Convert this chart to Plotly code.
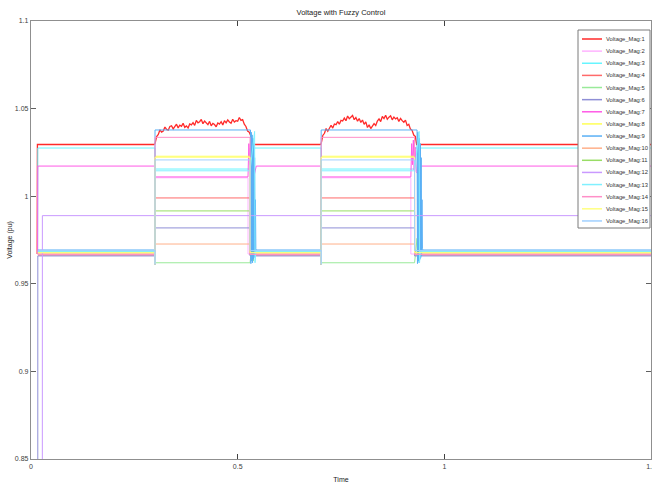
import plotly.graph_objects as go

# ---------------- data ----------------
SERIES_NAMES = ["Voltage_Mag:1", "Voltage_Mag:2", "Voltage_Mag:3", "Voltage_Mag:4",
                "Voltage_Mag:5", "Voltage_Mag:6", "Voltage_Mag:7", "Voltage_Mag:8",
                "Voltage_Mag:9", "Voltage_Mag:10", "Voltage_Mag:11", "Voltage_Mag:12",
                "Voltage_Mag:13", "Voltage_Mag:14", "Voltage_Mag:15", "Voltage_Mag:16"]

COLORS = ["#ff2a2a", "#ffb3ff", "#66f5ff", "#ff6a6a", "#99ea99", "#8f8fd6", "#ff5ae6", "#ffff55",
          "#5ab0f5", "#ffb08a", "#99dd66", "#c999ff", "#80f0ff", "#ff8fc8", "#ffff80", "#a0d0ff"]

# steady-state level of each bus before / between / after the disturbances
BASE_LEVEL = [1.0295, 0.9670, 1.0275, 0.9664, 0.9683, 0.9659, 1.0172, 0.9676,
              0.9693, 0.9670, 0.9680, 0.9889, 0.9685, 0.9668, 0.9678, 0.9690]
# level held during the two disturbance windows (None = no step)
EVENT_LEVEL = [None, 1.0105, 1.0155, 0.9990, 0.9620, 0.9819, 1.0110, 1.0228,
               1.0378, 0.9727, 0.9916, None, 1.0145, 1.0336, 1.0222, 1.0207]
SWITCH_ON_T = [0.015, 0.016, 0.016, 0.016, 0.016, 0.016, 0.016, 0.016,
               0.016, 0.016, 0.016, 0.027, 0.016, 0.016, 0.016, 0.016]
SWITCH_ON_FROM = [0.9670, None, 0.9670, None, None, 0.0, 0.9670, None,
                  None, None, None, 0.0, None, None, None, None]
DIP_V = 0.961
EVENT_START = [0.300, 0.702]
EVENT_END_1 = [0.532, 0.525, 0.530, 0.530, 0.530, 0.530, 0.525, 0.530,
               0.531, 0.530, 0.530, None, 0.530, 0.530, 0.530, 0.530]
EVENT_END_2 = [0.930, 0.919, 0.928, 0.928, 0.928, 0.928, 0.919, 0.928,
               0.934, 0.928, 0.928, None, 0.928, 0.928, 0.928, 0.928]
END_TIME = 1.5

# post-disturbance transients (time after the window end, value)
POST_DT = {
    5: [0.006, 0.008, 0.010, 0.012, 0.015],
    7: [0.002, 0.004, 0.006, 0.008, 0.010, 0.013, 0.016, 0.020],
    9: [0.001, 0.002, 0.003, 0.004, 0.005, 0.006, 0.007, 0.008, 0.009, 0.010, 0.011, 0.012, 0.013, 0.014],
    13: [0.011, 0.012, 0.014],
}
POST_V = {
    5: [0.9760, 0.9630, 0.9730, 0.9660, 0.9683],
    7: [1.0300, 1.0180, 1.0320, 1.0150, 1.0280, 1.0140, 1.0130, 1.0172],
    9: [0.9615, 1.0365, 0.9630, 1.0350, 0.9620, 1.0330, 0.9640, 1.0300, 0.9650, 1.0220, 0.9660, 0.9980, 0.9700, 0.9693],
    13: [1.0370, 0.9620, 0.9685],
}

# fuzzy-controlled bus 1 (noisy) during the two windows
RED_T1 = [0.300, 0.304, 0.308, 0.312, 0.316, 0.320, 0.324, 0.328, 0.332, 0.336, 0.340, 0.344,
          0.348, 0.352, 0.356, 0.360, 0.364, 0.368, 0.372, 0.376, 0.380, 0.384, 0.388, 0.392,
          0.396, 0.400, 0.404, 0.408, 0.412, 0.416, 0.420, 0.424, 0.428, 0.432, 0.436, 0.440,
          0.444, 0.448, 0.452, 0.456, 0.460, 0.464, 0.468, 0.472, 0.476, 0.480, 0.484, 0.488,
          0.492, 0.496, 0.500, 0.504, 0.508, 0.512, 0.516, 0.520, 0.524, 0.528, 0.532]
RED_V1 = [1.0300, 1.0341, 1.0352, 1.0379, 1.0366, 1.0372, 1.0395, 1.0381, 1.0377, 1.0398, 1.0402, 1.0384,
          1.0396, 1.0411, 1.0390, 1.0405, 1.0399, 1.0416, 1.0393, 1.0401, 1.0389, 1.0412, 1.0407, 1.0420,
          1.0404, 1.0433, 1.0419, 1.0425, 1.0438, 1.0414, 1.0429, 1.0421, 1.0408, 1.0427, 1.0402, 1.0415,
          1.0409, 1.0396, 1.0418, 1.0412, 1.0425, 1.0407, 1.0431, 1.0419, 1.0436, 1.0424, 1.0417, 1.0439,
          1.0423, 1.0431, 1.0428, 1.0449, 1.0433, 1.0437, 1.0411, 1.0398, 1.0372, 1.0366, 1.0342]
RED_T2 = [0.702, 0.706, 0.710, 0.714, 0.718, 0.722, 0.726, 0.730, 0.734, 0.738, 0.742, 0.746,
          0.750, 0.754, 0.758, 0.762, 0.766, 0.770, 0.774, 0.778, 0.782, 0.786, 0.790, 0.794,
          0.798, 0.802, 0.806, 0.810, 0.814, 0.818, 0.822, 0.826, 0.830, 0.834, 0.838, 0.842,
          0.846, 0.850, 0.854, 0.858, 0.862, 0.866, 0.870, 0.874, 0.878, 0.882, 0.886, 0.890,
          0.894, 0.898, 0.902, 0.906, 0.910, 0.914, 0.918, 0.922, 0.926, 0.930]
RED_V2 = [1.0300, 1.0347, 1.0359, 1.0386, 1.0371, 1.0392, 1.0405, 1.0389, 1.0412, 1.0408, 1.0426, 1.0411,
          1.0433, 1.0429, 1.0446, 1.0431, 1.0458, 1.0442, 1.0451, 1.0461, 1.0437, 1.0449, 1.0428, 1.0443,
          1.0421, 1.0435, 1.0410, 1.0424, 1.0392, 1.0407, 1.0386, 1.0398, 1.0414, 1.0403, 1.0429, 1.0441,
          1.0426, 1.0455, 1.0443, 1.0462, 1.0439, 1.0451, 1.0459, 1.0436, 1.0452, 1.0441, 1.0448, 1.0427,
          1.0444, 1.0431, 1.0422, 1.0434, 1.0404, 1.0411, 1.0383, 1.0376, 1.0349, 1.0340]
RED_RETURN_DT = 0.003

X_TICKS = [0, 0.5, 1, 1.5]
X_TICK_LABELS = ["0", "0.5", "1", "1.5"]
Y_TICKS = [0.85, 0.9, 0.95, 1.0, 1.05, 1.1]
Y_TICK_LABELS = ["0.85", "0.9", "0.95", "1", "1.05", "1.1"]

TITLE = "Voltage with Fuzzy Control"
X_TITLE = "Time"
Y_TITLE = "Voltage (pu)"


# ---------------- build traces ----------------
def step_series(i):
    n = i + 1
    base, ev, on, frm = BASE_LEVEL[i], EVENT_LEVEL[i], SWITCH_ON_T[i], SWITCH_ON_FROM[i]
    t, v = [], []
    if frm is not None:
        if frm < 0.5:
            t += [0.0]
            v += [frm]
        t += [on]
        v += [frm]
    t += [on + 0.0005]
    v += [base]
    if ev is not None:
        for s, e in zip(EVENT_START, [EVENT_END_1[i], EVENT_END_2[i]]):
            t += [s, s, s, e]
            v += [base, DIP_V, ev, ev]
            if n in POST_DT:
                t += [e + d for d in POST_DT[n]]
                v += list(POST_V[n])
            else:
                t += [e]
                v += [base]
    t += [END_TIME]
    v += [base]
    return t, v


def red_series():
    base = BASE_LEVEL[0]
    t = [SWITCH_ON_T[0], SWITCH_ON_T[0] + 0.0005]
    v = [SWITCH_ON_FROM[0], base]
    for rt, rv in ((RED_T1, RED_V1), (RED_T2, RED_V2)):
        t += [rt[0] - 0.002] + rt + [rt[-1] + RED_RETURN_DT]
        v += [base] + rv + [base]
    t += [END_TIME]
    v += [base]
    return t, v


fig = go.Figure()
for i, name in enumerate(SERIES_NAMES):
    t, v = red_series() if i == 0 else step_series(i)
    fig.add_trace(go.Scatter(x=t, y=v, mode="lines", name=name, showlegend=False,
                             line=dict(color=COLORS[i], width=1.3 if i == 0 else 1.0)))

# ---------------- layout ----------------
W, H = 652, 484
PLOT_L, PLOT_R, PLOT_T, PLOT_B = 31, 651, 21, 459


def px_x(x):
    return (x - PLOT_L) / (PLOT_R - PLOT_L)


def px_y(y):
    return 1 - (y - PLOT_T) / (PLOT_B - PLOT_T)


shapes = [dict(type="rect", xref="paper", yref="paper",
               x0=px_x(578), x1=px_x(650), y0=px_y(228), y1=px_y(30),
               line=dict(color="#7a7a7a", width=1), fillcolor="white", layer="above")]
annotations = []
for i, name in enumerate(SERIES_NAMES):
    yy = px_y(39 + 12.13 * i)
    shapes.append(dict(type="line", xref="paper", yref="paper",
                       x0=px_x(582), x1=px_x(602), y0=yy, y1=yy,
                       line=dict(color=COLORS[i], width=1.5), layer="above"))
    annotations.append(dict(text=name, xref="paper", yref="paper", x=px_x(603.5), y=yy,
                            xanchor="left", yanchor="middle", showarrow=False,
                            font=dict(size=5.8, color="#333333")))

FONT = "Liberation Sans Narrow, Liberation Sans, Arial, sans-serif"
fig.update_layout(
    width=W, height=H,
    margin=dict(l=PLOT_L, r=W - PLOT_R, t=PLOT_T, b=H - PLOT_B),
    paper_bgcolor="white", plot_bgcolor="white",
    font=dict(family=FONT, size=7, color="#404040"),
    title=dict(text=TITLE, x=341 / W, xanchor="center", y=1 - 12 / H, yanchor="middle",
               font=dict(size=7.5, color="#222222")),
    shapes=shapes, annotations=annotations,
    showlegend=False,
)
fig.update_xaxes(range=[0, 1.5], tickvals=X_TICKS, ticktext=X_TICK_LABELS,
                 showgrid=False, zeroline=False, showline=True, linecolor="#8f8f8f", linewidth=1.3,
                 mirror="ticks", ticks="inside", ticklen=5, tickcolor="#404040", tickwidth=1,
                 ticklabeloverflow="allow",
                 title=dict(text=X_TITLE, standoff=8, font=dict(size=7, color="#222222")),
                 automargin=False)
fig.update_yaxes(range=[0.85, 1.1], tickvals=Y_TICKS, ticktext=Y_TICK_LABELS,
                 showgrid=False, zeroline=False, showline=True, linecolor="#8f8f8f", linewidth=1.3,
                 mirror="ticks", ticks="inside", ticklen=5, tickcolor="#606060", tickwidth=1,
                 title=dict(text=Y_TITLE, standoff=1, font=dict(size=7, color="#222222")),
                 automargin=False)

# remove the page's default body margin / scrollbars so the figure fills the window exactly
POST_JS = "document.body.style.margin='0';document.body.style.overflow='hidden';"
fig.write_html("out.html", post_script=POST_JS, config={"displayModeBar": False})
